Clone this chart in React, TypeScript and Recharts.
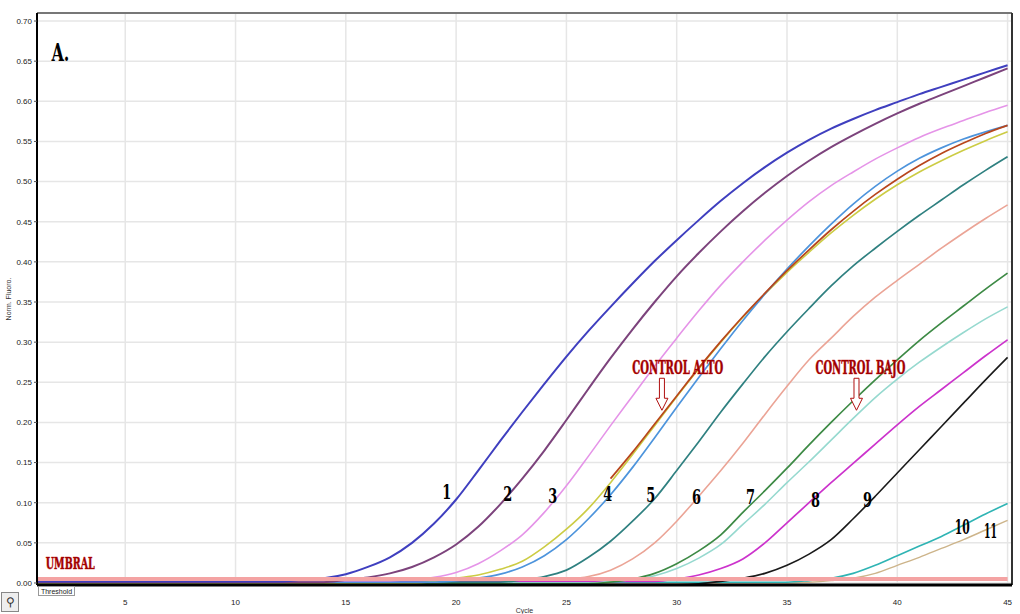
import React from 'react';
import { LineChart, Line, XAxis, YAxis, CartesianGrid, ReferenceLine, ReferenceDot } from 'recharts';

const cycles = [1, 2, 3, 4, 5, 6, 7, 8, 9, 10, 11, 12, 13, 14, 15, 16, 17, 18, 19, 20, 21, 22, 23, 24, 25, 26, 27, 28, 29, 30, 31, 32, 33, 34, 35, 36, 37, 38, 39, 40, 41, 42, 43, 44, 45];

const s1 = [
  0.002, 0.002, 0.002, 0.002, 0.002, 0.002, 0.002, 0.002, 0.002,
  0.002, 0.002, 0.002, 0.004, 0.006, 0.011, 0.02, 0.032, 0.05,
  0.074, 0.104, 0.14, 0.177, 0.213, 0.248, 0.282, 0.314, 0.344,
  0.373, 0.401, 0.427, 0.452, 0.476, 0.498, 0.518, 0.536, 0.552,
  0.566, 0.578, 0.589, 0.599, 0.609, 0.618, 0.627, 0.636, 0.645,
];
const s2 = [
  0.001, 0.001, 0.001, 0.001, 0.001, 0.001, 0.001, 0.001, 0.001,
  0.001, 0.001, 0.001, 0.001, 0.001, 0.004, 0.007, 0.012, 0.02,
  0.032, 0.048, 0.07, 0.098, 0.13, 0.165, 0.203, 0.242, 0.28,
  0.316, 0.35, 0.382, 0.411, 0.438, 0.463, 0.486, 0.507, 0.526,
  0.543, 0.558, 0.572, 0.585, 0.597, 0.608, 0.619, 0.63, 0.641,
];
const s3 = [
  0.003, 0.003, 0.003, 0.003, 0.003, 0.003, 0.003, 0.003, 0.003,
  0.003, 0.003, 0.003, 0.003, 0.003, 0.003, 0.003, 0.003, 0.004,
  0.007, 0.013, 0.024, 0.04, 0.06, 0.088, 0.121, 0.158, 0.196,
  0.233, 0.27, 0.305, 0.339, 0.371, 0.4, 0.427, 0.452, 0.475,
  0.495, 0.512, 0.528, 0.542, 0.555, 0.566, 0.576, 0.586, 0.595,
];
const s4y = [
  0, 0, 0, 0, 0, 0, 0, 0, 0,
  0, 0, 0, 0, 0, 0, 0, 0, 0,
  0.002, 0.006, 0.01, 0.017, 0.027, 0.045, 0.067, 0.093, 0.125,
  0.16, 0.196, 0.232, 0.267, 0.3, 0.331, 0.36, 0.387, 0.412,
  0.436, 0.458, 0.478, 0.496, 0.512, 0.526, 0.539, 0.551, 0.562,
];
const s4b = [
  0.001, 0.001, 0.001, 0.001, 0.001, 0.001, 0.001, 0.001, 0.001,
  0.001, 0.001, 0.001, 0.001, 0.001, 0.001, 0.001, 0.001, 0.001,
  0.001, 0.003, 0.006, 0.011, 0.02, 0.034, 0.054, 0.08, 0.11,
  0.144, 0.181, 0.219, 0.256, 0.292, 0.327, 0.36, 0.391, 0.42,
  0.447, 0.472, 0.494, 0.513, 0.529, 0.542, 0.553, 0.562, 0.57,
];
const ctrlAlto = [
  null, null, null, null, null, null, null, null, null,
  null, null, null, null, null, null, null, null, null,
  null, null, null, null, null, null, null, null, 0.13,
  0.163, 0.198, 0.233, 0.268, 0.301, 0.332, 0.361, 0.389, 0.415,
  0.44, 0.463, 0.484, 0.503, 0.52, 0.535, 0.548, 0.56, 0.57,
];
const s5 = [
  0, 0, 0, 0, 0, 0, 0, 0, 0,
  0, 0, 0, 0, 0, 0, 0, 0, 0,
  0.001, 0.001, 0.001, 0.001, 0.004, 0.008, 0.016, 0.032, 0.052,
  0.077, 0.105, 0.14, 0.176, 0.213, 0.248, 0.282, 0.313, 0.342,
  0.37, 0.395, 0.417, 0.438, 0.458, 0.477, 0.496, 0.514, 0.531,
];
const s6 = [
  0.004, 0.004, 0.004, 0.004, 0.004, 0.004, 0.004, 0.004, 0.004,
  0.004, 0.004, 0.004, 0.004, 0.004, 0.004, 0.004, 0.004, 0.004,
  0.004, 0.004, 0.004, 0.004, 0.004, 0.004, 0.005, 0.008, 0.016,
  0.03, 0.05, 0.077, 0.108, 0.14, 0.174, 0.21, 0.245, 0.278,
  0.305, 0.332, 0.356, 0.377, 0.397, 0.417, 0.436, 0.454, 0.471,
];
const s7 = [
  -0.001, -0.001, -0.001, -0.001, -0.001, -0.001, -0.001, -0.001, -0.001,
  -0.001, -0.001, -0.001, -0.001, -0.001, -0.001, -0.001, -0.001, -0.001,
  -0.001, -0.001, -0.001, -0.001, -0.001, -0.001, -0.001, -0.001, 0.001,
  0.005, 0.012, 0.024, 0.04, 0.06, 0.088, 0.115, 0.143, 0.172,
  0.2, 0.227, 0.253, 0.278, 0.302, 0.324, 0.345, 0.366, 0.386,
];
const s7b = [
  0, 0, 0, 0, 0, 0, 0, 0, 0,
  0, 0, 0, 0, 0, 0, 0, 0, 0,
  0, 0, 0, 0, 0, 0, 0, 0, 0.002,
  0.004, 0.009, 0.018, 0.031, 0.048, 0.073, 0.098, 0.125, 0.151,
  0.178, 0.205, 0.231, 0.254, 0.275, 0.294, 0.312, 0.329, 0.344,
];
const s8 = [
  0.002, 0.002, 0.002, 0.002, 0.002, 0.002, 0.002, 0.002, 0.002,
  0.002, 0.002, 0.002, 0.002, 0.002, 0.002, 0.002, 0.002, 0.002,
  0.002, 0.002, 0.002, 0.002, 0.002, 0.002, 0.002, 0.002, 0.002,
  0.002, 0.002, 0.005, 0.01, 0.018, 0.03, 0.05, 0.075, 0.1,
  0.125, 0.149, 0.173, 0.197, 0.22, 0.241, 0.262, 0.283, 0.303,
];
const s9 = [
  -0.002, -0.002, -0.002, -0.002, -0.002, -0.002, -0.002, -0.002, -0.002,
  -0.002, -0.002, -0.002, -0.002, -0.002, -0.002, -0.002, -0.002, -0.002,
  -0.002, -0.002, -0.002, -0.002, -0.002, -0.002, -0.002, -0.002, -0.002,
  -0.002, -0.002, -0.002, -0.001, 0.002, 0.006, 0.012, 0.022, 0.036,
  0.054, 0.08, 0.108, 0.137, 0.166, 0.195, 0.224, 0.253, 0.281,
];
const s10 = [
  0.001, 0.001, 0.001, 0.001, 0.001, 0.001, 0.001, 0.001, 0.001,
  0.001, 0.001, 0.001, 0.001, 0.001, 0.001, 0.001, 0.001, 0.001,
  0.001, 0.001, 0.001, 0.001, 0.001, 0.001, 0.001, 0.001, 0.001,
  0.001, 0.001, 0.001, 0.001, 0.001, 0.001, 0.001, 0.001, 0.003,
  0.006, 0.012, 0.022, 0.034, 0.046, 0.058, 0.072, 0.086, 0.099,
];
const s11 = [
  0, 0, 0, 0, 0, 0, 0, 0, 0,
  0, 0, 0, 0, 0, 0, 0, 0, 0,
  0, 0, 0, 0, 0, 0, 0, 0, 0,
  0, 0, 0, 0, 0, 0, 0, 0, 0.001,
  0.003, 0.006, 0.012, 0.022, 0.032, 0.043, 0.054, 0.066, 0.078,
];

const xTicks = [5, 10, 15, 20, 25, 30, 35, 40, 45];
const yTicks = [0, 0.05, 0.1, 0.15, 0.2, 0.25, 0.3, 0.35, 0.4, 0.45, 0.5, 0.55, 0.6, 0.65, 0.7];
const thresholdValue = 0.005;

const sampleLabels = [
  { text: '1', x: 19.58, y: 0.113, w: 9 },
  { text: '2', x: 22.34, y: 0.111, w: 9 },
  { text: '3', x: 24.38, y: 0.108, w: 9 },
  { text: '4', x: 26.87, y: 0.111, w: 9 },
  { text: '5', x: 28.82, y: 0.11, w: 9 },
  { text: '6', x: 30.9, y: 0.107, w: 9 },
  { text: '7', x: 33.35, y: 0.107, w: 9 },
  { text: '8', x: 36.29, y: 0.103, w: 9 },
  { text: '9', x: 38.65, y: 0.103, w: 9 },
  { text: '10', x: 42.95, y: 0.07, w: 15 },
  { text: '11', x: 44.22, y: 0.065, w: 13 },
];
const redLabels = [
  { text: 'CONTROL ALTO', x: 30.05, y: 0.269, w: 91, size: 18 },
  { text: 'CONTROL BAJO', x: 38.33, y: 0.269, w: 90, size: 18 },
  { text: 'UMBRAL', x: 2.51, y: 0.025, w: 49, size: 17 },
];
const arrows = [
  { x: 29.33, y: 0.255 },
  { x: 38.15, y: 0.255 },
];

const seriesList = [
  { key: 's11', values: s11, color: '#cdb48a', width: 1.4 },
  { key: 's10', values: s10, color: '#2fb4b4', width: 1.6 },
  { key: 's9', values: s9, color: '#1a1a1a', width: 1.6 },
  { key: 's8', values: s8, color: '#cc33cc', width: 1.7 },
  { key: 's7b', values: s7b, color: '#96d9cf', width: 1.6 },
  { key: 's7', values: s7, color: '#3d8a45', width: 1.7 },
  { key: 's6', values: s6, color: '#eba496', width: 1.6 },
  { key: 's5', values: s5, color: '#2f8080', width: 1.7 },
  { key: 's4y', values: s4y, color: '#cccc44', width: 1.6 },
  { key: 's4b', values: s4b, color: '#4d94dc', width: 1.7 },
  { key: 'ctrlAlto', values: ctrlAlto, color: '#b8461c', width: 1.7 },
  { key: 's3', values: s3, color: '#e594e8', width: 1.6 },
  { key: 's2', values: s2, color: '#7c437c', width: 2 },
  { key: 's1', values: s1, color: '#3f3fbf', width: 2 },
];

const data = cycles.map((c, i) => {
  const row: any = { cycle: c };
  seriesList.forEach((s) => {
    row[s.key] = s.values[i];
  });
  return row;
});

const tickFont = "'Liberation Sans Narrow', 'Liberation Sans', Arial, sans-serif";
const heavyFont = "'DejaVu Serif Condensed', 'DejaVu Serif', serif";

export default function App() {
  return (
    <div style={{ position: 'absolute', left: 0, top: 0, width: 1020, height: 614, background: '#fff', overflow: 'hidden' }}>
      <LineChart width={1020} height={614} data={data} margin={{ top: 13, right: 8, left: 0, bottom: 0 }}>
        <CartesianGrid stroke="#e6e6e6" strokeWidth={1.5} />
        <XAxis
          type="number"
          dataKey="cycle"
          domain={[1, 45.2]}
          ticks={xTicks}
          allowDataOverflow
          height={29}
          tickLine={false}
          tickMargin={8}
          tick={{ fontSize: 8, fill: '#222', fontFamily: tickFont }}
          axisLine={{ stroke: '#000', strokeWidth: 3 }}
          label={{ value: 'Cycle', position: 'insideBottom', offset: 1, fontSize: 7, fill: '#333', fontFamily: tickFont }}
        />
        <YAxis
          type="number"
          domain={[-0.0025, 0.71]}
          ticks={yTicks}
          allowDataOverflow
          width={37}
          tickSize={3}
          tickMargin={2}
          tickFormatter={(v: number) => v.toFixed(2)}
          tick={{ fontSize: 8, fill: '#222', fontFamily: tickFont }}
          axisLine={{ stroke: '#000', strokeWidth: 2 }}
          tickLine={{ stroke: '#555' }}
          label={{ value: 'Norm. Fluoro.', angle: -90, position: 'insideLeft', offset: 9, fontSize: 7, fill: '#333', fontFamily: tickFont, style: { textAnchor: 'middle' } }}
        />
        <ReferenceLine y={0.71} stroke="#777" strokeWidth={2} />
        <ReferenceLine x={45.2} stroke="#333" strokeWidth={2} />
        {seriesList.map((s) => (
          <Line
            key={s.key}
            type="monotone"
            dataKey={s.key}
            stroke={s.color}
            strokeWidth={s.width}
            dot={false}
            activeDot={false}
            isAnimationActive={false}
            connectNulls={false}
          />
        ))}
        <ReferenceLine
          segment={[{ x: 1, y: thresholdValue }, { x: 45, y: thresholdValue }]}
          stroke="#f4a3a3"
          strokeWidth={4}
        />
        <ReferenceDot
          x={2.06}
          y={0.661}
          r={0}
          ifOverflow="visible"
          shape={(p: any) => (
            <text x={p.cx} y={p.cy} textAnchor="middle" dominantBaseline="central" fontFamily={heavyFont} fontWeight={900} fontSize={24} textLength={18} lengthAdjust="spacingAndGlyphs" fill="#000">A.</text>
          )}
        />
        {sampleLabels.map((l) => (
          <ReferenceDot
            key={'n' + l.text}
            x={l.x}
            y={l.y}
            r={0}
            ifOverflow="visible"
            shape={(p: any) => (
              <text x={p.cx} y={p.cy} textAnchor="middle" dominantBaseline="central" fontFamily={heavyFont} fontWeight={900} fontSize={20} textLength={l.w} lengthAdjust="spacingAndGlyphs" fill="#000">{l.text}</text>
            )}
          />
        ))}
        {redLabels.map((l) => (
          <ReferenceDot
            key={l.text}
            x={l.x}
            y={l.y}
            r={0}
            ifOverflow="visible"
            shape={(p: any) => (
              <text x={p.cx} y={p.cy} textAnchor="middle" dominantBaseline="central" fontFamily={heavyFont} fontWeight={900} fontSize={l.size} textLength={l.w} lengthAdjust="spacingAndGlyphs" fill="#a00000" stroke="#d23a3a" strokeWidth={0.6} paintOrder="stroke">{l.text}</text>
            )}
          />
        ))}
        {arrows.map((a, i) => (
          <ReferenceDot
            key={'a' + i}
            x={a.x}
            y={a.y}
            r={0}
            ifOverflow="visible"
            shape={(p: any) => (
              <path
                d={`M${p.cx - 2.5},${p.cy} L${p.cx - 2.5},${p.cy + 20} L${p.cx - 6},${p.cy + 20} L${p.cx},${p.cy + 32} L${p.cx + 6},${p.cy + 20} L${p.cx + 2.5},${p.cy + 20} L${p.cx + 2.5},${p.cy} Z`}
                fill="#fff"
                stroke="#b01010"
                strokeWidth={1}
              />
            )}
          />
        ))}
      </LineChart>
      <div style={{ position: 'absolute', left: 38, top: 586, width: 37, height: 10, border: '1px solid #999', background: '#fff', fontSize: 7, lineHeight: '10px', fontFamily: tickFont, color: '#222', textAlign: 'center', boxSizing: 'border-box' }}>Threshold</div>
      <div style={{ position: 'absolute', left: 1, top: 592, width: 18, height: 20, border: '1px solid #888', background: '#eee', boxSizing: 'border-box', fontSize: 12, lineHeight: '18px', textAlign: 'center', fontFamily: tickFont, color: '#333' }}>⚲</div>
    </div>
  );
}
